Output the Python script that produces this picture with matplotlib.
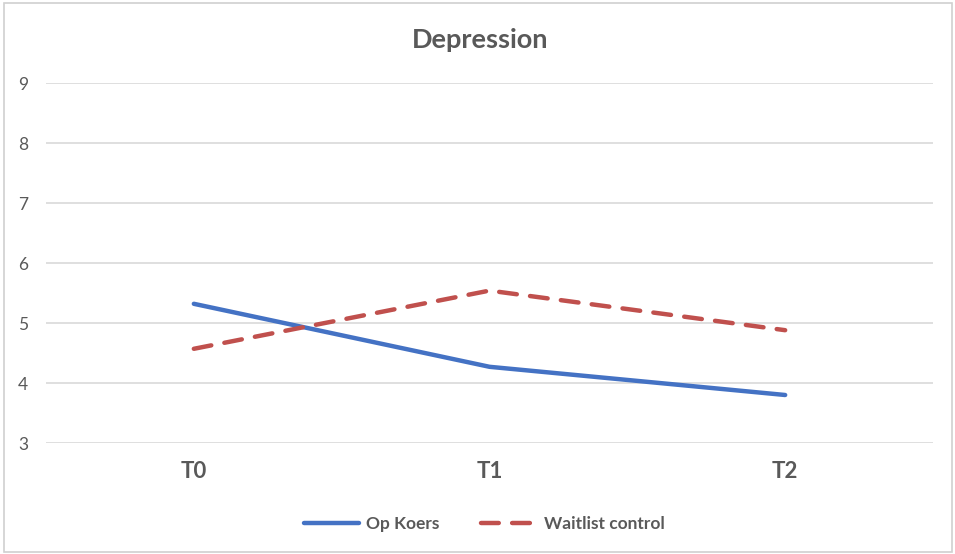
import matplotlib.pyplot as plt
from matplotlib.patches import Rectangle

# Depression scores per measurement point
timepoints = ["T0", "T1", "T2"]
op_koers = [5.32, 4.27, 3.80]
waitlist = [4.57, 5.54, 4.88]
y_ticks = [3, 4, 5, 6, 7, 8, 9]

text_grey = "#595959"
plt.rcParams["font.family"] = ["Lato", "DejaVu Sans"]

fig = plt.figure(figsize=(9.55, 5.54), dpi=100)
ax = fig.add_axes([46 / 955, 1 - 443 / 554, (933 - 46) / 955, (443 - 83) / 554])

x = range(len(timepoints))
ax.plot(x, op_koers, color="#4472C4", lw=3.2, solid_capstyle="round", label="Op Koers", zorder=3)
ax.plot(x, waitlist, color="#C0504D", lw=3.2, dashes=(4.0, 3.0), dash_capstyle="round",
        label="Waitlist control", zorder=3)

ax.set_xlim(-0.5, len(timepoints) - 0.5)
ax.set_ylim(3, 9)
ax.set_xticks(list(x))
ax.set_xticklabels(timepoints, fontsize=16, fontweight="bold", color=text_grey)
ax.set_yticks(y_ticks)
ax.set_yticklabels([str(v) for v in y_ticks], fontsize=12.5, color=text_grey)
ax.tick_params(axis="both", length=0)
ax.tick_params(axis="y", pad=13)
ax.tick_params(axis="x", pad=13)
ax.grid(axis="y", color="#D9D9D9", lw=1.2)
ax.set_axisbelow(True)
for s in ax.spines.values():
    s.set_visible(False)

fig.text(0.503, 1 - 40 / 554, "Depression", ha="center", va="center",
         fontsize=19.5, fontweight="bold", color=text_grey)

leg = fig.legend(loc="center", bbox_to_anchor=(0.507, 1 - 524 / 554), ncol=2, frameon=False,
                 fontsize=12.5, handlelength=3.2, columnspacing=2.4, handletextpad=0.4)
for t in leg.get_texts():
    t.set_color(text_grey)
    t.set_fontweight("bold")

# light outer frame around the chart
fig.patches.append(Rectangle((4 / 955, 2 / 554), 948 / 955, 549 / 554, transform=fig.transFigure,
                             fill=False, edgecolor="#D0D0D0", lw=1.2))

fig.savefig("out.png", dpi=100)
